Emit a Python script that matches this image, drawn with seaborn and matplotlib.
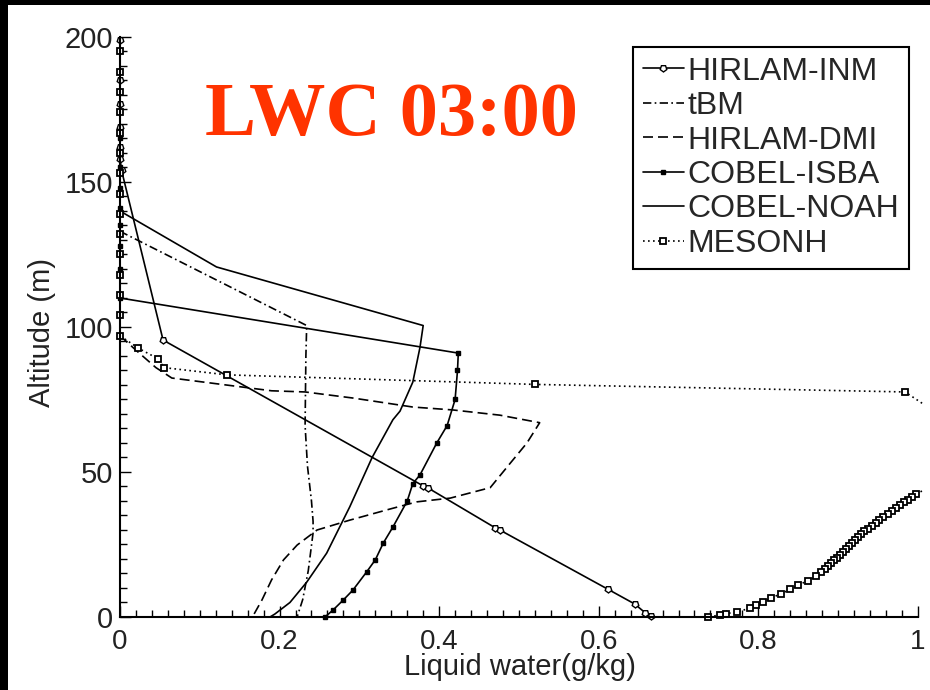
import matplotlib
matplotlib.use('Agg')
import matplotlib.pyplot as plt
import seaborn as sns
from matplotlib.ticker import MultipleLocator, FixedLocator, FixedFormatter
from matplotlib.patches import Rectangle
from matplotlib.transforms import Bbox, TransformedBbox

sns.set_style('ticks')
plt.rcParams['font.family'] = ['Liberation Sans', 'DejaVu Sans']

# --- data (liquid water g/kg, altitude m) ---
inm_lwc = [0.0, 0.0, 0.0, 0.0, 0.0, 0.0, 0.002, 0.054, 0.38, 0.386, 0.47, 0.476, 0.612, 0.645, 0.658, 0.665]
inm_alt = [199, 185, 177, 169, 162, 158, 154, 95.5, 45.2, 44.5, 30.8, 30.0, 9.5, 4.5, 1.5, 0.3]

tbm_lwc = [0.0, 0.234, 0.233, 0.232, 0.235, 0.24, 0.242, 0.242, 0.236, 0.229, 0.222]
tbm_alt = [133, 100.5, 90, 66, 52, 40, 33, 29, 16, 6, 0]

dmi_lwc = [0.0, 0.02, 0.045, 0.065, 0.19, 0.232, 0.292, 0.367, 0.417, 0.476, 0.526, 0.51, 0.489,
           0.464, 0.414, 0.372, 0.338, 0.288, 0.247, 0.222, 0.205, 0.19, 0.178, 0.167]
dmi_alt = [97, 92, 86, 82.4, 78, 77.6, 75.5, 72.4, 71.4, 69.6, 67, 60, 53,
           44.6, 41, 39.7, 37.2, 33.4, 30, 24.8, 19.7, 12.8, 5.9, 0.5]

isba_lwc = [0.0, 0.0, 0.0, 0.0, 0.0, 0.0, 0.0, 0.0, 0.0, 0.424, 0.423, 0.42, 0.41, 0.397, 0.376,
            0.367, 0.36, 0.342, 0.33, 0.32, 0.309, 0.292, 0.28, 0.267, 0.257]
isba_alt = [165, 160, 155, 148, 141, 135, 128, 120, 110, 91, 85, 75, 66, 60, 49,
            46, 40, 31, 25.5, 19.7, 15.5, 9.3, 5.9, 2.4, 0]

noah_lwc = [0.0, 0.121, 0.38, 0.376, 0.367, 0.351, 0.342, 0.316, 0.288, 0.259, 0.234, 0.213, 0.194, 0.188]
noah_alt = [140, 120.7, 100.5, 93, 81, 71, 68, 55, 38, 22, 12, 5, 1, 0]

meso_lwc = [0.0, 0.0, 0.0, 0.0, 0.0, 0.0, 0.0, 0.0, 0.0, 0.0, 0.0, 0.0, 0.0, 0.0, 0.0,
            0.023, 0.048, 0.055, 0.134, 0.52, 0.984, 1.08, 1.04,
            0.998, 0.993, 0.988, 0.983, 0.978, 0.972, 0.967, 0.962, 0.956, 0.951,
            0.947, 0.942, 0.938, 0.933, 0.929, 0.925, 0.921, 0.917, 0.914, 0.910,
            0.906, 0.902, 0.898, 0.895, 0.891, 0.887, 0.884, 0.879, 0.872, 0.862,
            0.850, 0.840, 0.828, 0.816, 0.806, 0.797, 0.789, 0.773, 0.760, 0.752, 0.737]
meso_alt = [195, 188, 181, 174, 167, 160, 153, 146, 139, 132, 125, 118, 111, 104, 97,
            92.7, 89, 86, 83.5, 80.2, 77.6, 60, 48,
            42.5, 41.5, 40.5, 39.5, 38.5, 37.5, 36.5, 35.5, 34.5, 33.5,
            32.5, 31.5, 30.5, 29.5, 28.5, 27.5, 26.5, 25.5, 24.5, 23.5,
            22.5, 21.5, 20.5, 19.5, 18.5, 17.5, 16.5, 15.5, 14, 12.5,
            11, 9.5, 8, 6.5, 5.2, 4, 3, 1.7, 1.2, 0.7, 0]

xtick_vals = [0, 0.2, 0.4, 0.6, 0.8, 1]
xtick_labels = ['0', '0.2', '0.4', '0.6', '0.8', '1']
ytick_vals = [0, 50, 100, 150, 200]
ytick_labels = ['0', '50', '100', '150', '200']

fig = plt.figure(figsize=(9.3, 6.9), dpi=100, facecolor='white')
ax = fig.add_axes([0.129, 0.1058, 0.858, 0.8406])
ax.set_facecolor('white')

series = [
    ('HIRLAM-INM', inm_lwc, inm_alt, '-', (5, 0, 180), 5, 'white', 1.0),
    ('tBM', tbm_lwc, tbm_alt, (0, (5, 2, 1, 2)), None, 0, 'k', 1.0),
    ('HIRLAM-DMI', dmi_lwc, dmi_alt, (0, (6, 3)), None, 0, 'k', 1.0),
    ('COBEL-ISBA', isba_lwc, isba_alt, '-', 's', 3.5, 'k', 1.0),
    ('COBEL-NOAH', noah_lwc, noah_alt, '-', None, 0, 'k', 1.0),
    ('MESONH', meso_lwc, meso_alt, (0, (1, 2)), 's', 5, 'white', 1.3),
]

for name, xs, ys, ls, mk, ms, mfc, mew in series:
    sns.lineplot(x=xs, y=ys, sort=False, estimator=None, ax=ax, color='k', lw=1.2,
                 linestyle=ls, marker=mk, ms=ms, mfc=mfc, mec='k', mew=mew, label=name)

ax.set_xlim(0, 1)
ax.set_ylim(0, 200)

# let markers sitting on the axes show fully, but still cut the curve at x = 1
clip = TransformedBbox(Bbox([[-0.02, -0.02], [1.008, 1.02]]), ax.transAxes)
for line in ax.lines:
    line.set_clip_box(clip)

ax.xaxis.set_major_locator(FixedLocator(xtick_vals))
ax.xaxis.set_major_formatter(FixedFormatter(xtick_labels))
ax.yaxis.set_major_locator(FixedLocator(ytick_vals))
ax.yaxis.set_major_formatter(FixedFormatter(ytick_labels))
ax.xaxis.set_minor_locator(MultipleLocator(0.02))
ax.yaxis.set_minor_locator(MultipleLocator(5))
ax.tick_params(which='both', direction='in', colors='k', labelcolor='#222222',
               labelsize=21, width=1.0, pad=5)
ax.tick_params(axis='x', which='both', labelsize=20, pad=9)
ax.tick_params(which='major', length=8)
ax.tick_params(which='minor', length=5)

for side in ['top', 'right']:
    ax.spines[side].set_visible(False)
for side in ['left', 'bottom']:
    ax.spines[side].set_linewidth(1.5)
    ax.spines[side].set_color('k')

ax.set_xlabel('Liquid water(g/kg)', fontsize=21, color='#222222')
ax.set_ylabel('Altitude (m)', fontsize=21, color='#222222')
ax.xaxis.set_label_coords(0.501, -0.062)
ax.yaxis.label.set_va('center')
ax.yaxis.set_label_coords(-0.0977, 0.49)

leg = ax.legend(loc='upper left', bbox_to_anchor=(0.6806, 0.9319), bbox_transform=fig.transFigure,
                frameon=True, fancybox=False, framealpha=1, edgecolor='k', fontsize=23,
                handlelength=1.3, handletextpad=0.1, borderpad=0.3, labelspacing=0.14,
                numpoints=1, borderaxespad=0)
leg.get_frame().set_linewidth(1.5)

fig.text(0.22, 0.805, 'LWC 03:00', color='#ff3300', fontsize=55, fontweight='bold',
         family=['Liberation Serif', 'DejaVu Serif'], ha='left', va='baseline')

# black screenshot border on left and top
fig.add_artist(Rectangle((0, 0), 8 / 930, 1, transform=fig.transFigure,
                         facecolor='k', edgecolor='none', zorder=10))
fig.add_artist(Rectangle((0, 1 - 5 / 690), 1, 5 / 690, transform=fig.transFigure,
                         facecolor='k', edgecolor='none', zorder=10))

fig.savefig('out.png', dpi=100, facecolor='white')
